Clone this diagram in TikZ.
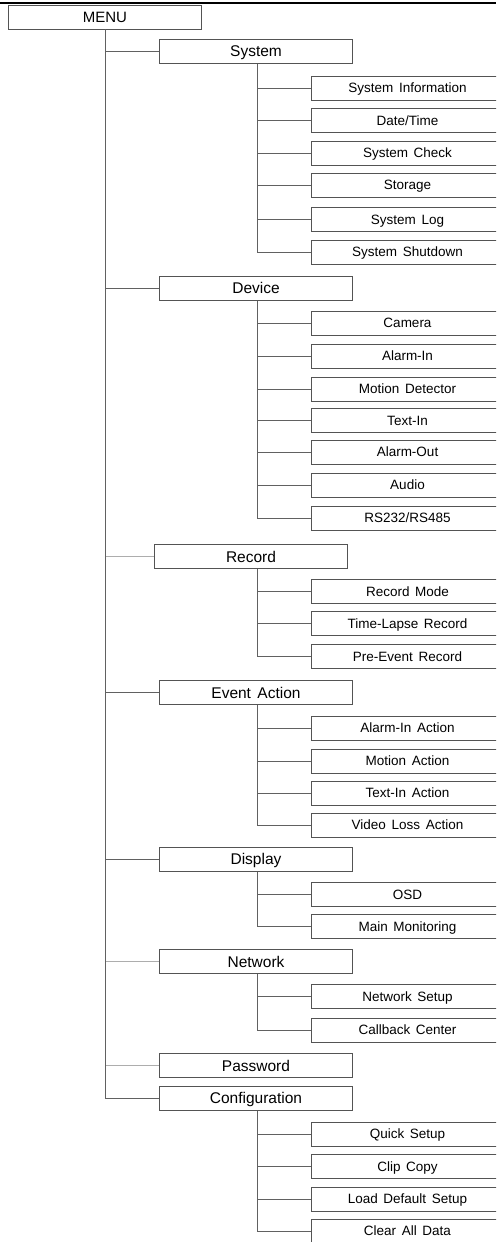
\documentclass[tikz,border=0pt]{standalone}
\usepackage{fontspec}
\setmainfont[WordSpace=1.5]{Liberation Sans}
\usetikzlibrary{positioning}
\definecolor{boxgray}{gray}{0.33}
\definecolor{linegray}{gray}{0.38}
\definecolor{faintgray}{gray}{0.68}
\tikzstyle{menubox} = [rectangle, draw=boxgray, line width=1pt, minimum width=193pt, minimum height=24pt, inner sep=0pt, anchor=west, text depth=0pt, text height=10.7pt, font=\fontsize{15}{18}\selectfont]
\tikzstyle{topic} = [menubox, text height=11.1pt, font=\fontsize{15.5}{18}\selectfont]
\tikzstyle{item} = [menubox, minimum width=192pt, text height=9.7pt, font=\fontsize{13.5}{16}\selectfont]
\tikzstyle{link} = [draw=linegray, line width=1pt]
\tikzstyle{faint} = [draw=faintgray, line width=1pt]

\begin{document}
\begin{tikzpicture}[x=1pt, y=-1pt]
\path [use as bounding box, clip] (0,0) rectangle (496,1242);
\draw [line width=2pt] (0,3) -- (496,3);
\coordinate (bus) at (257,0);

\node (menu) [menubox] at (8,17) {MENU};

% System
\node (system) [topic] at (159,51) {System};
\node (sysinfo) [item] at (311,88) {System Information};
\node (datetime) [item] at (311,120.5) {Date/Time};
\node (syscheck) [item] at (311,153) {System Check};
\node (storage) [item] at (311,185) {Storage};
\node (syslog) [item] at (311,219.5) {System Log};
\node (shutdown) [item] at (311,252) {System Shutdown};

% Device
\node (device) [topic] at (159,288) {Device};
\node (camera) [item] at (311,323) {Camera};
\node (alarmin) [item] at (311,356) {Alarm-In};
\node (motion) [item] at (311,389) {Motion Detector};
\node (textin) [item] at (311,420.5) {Text-In};
\node (alarmout) [item] at (311,452) {Alarm-Out};
\node (audio) [item] at (311,485) {Audio};
\node (serial) [item] at (311,518) {RS232/RS485};

% Record
\node (record) [topic] at (154,556.5) {Record};
\node (recmode) [item] at (311,591.5) {Record Mode};
\node (lapse) [item] at (311,623.5) {Time-Lapse Record};
\node (preevent) [item] at (311,656.5) {Pre-Event Record};

% Event Action
\node (event) [topic] at (159,692.5) {Event Action};
\node (aiaction) [item] at (311,728) {Alarm-In Action};
\node (mdaction) [item] at (311,761) {Motion Action};
\node (tiaction) [item] at (311,793) {Text-In Action};
\node (vlaction) [item] at (311,825) {Video Loss Action};

% Display
\node (display) [topic] at (159,859) {Display};
\node (osd) [item] at (311,894.5) {OSD};
\node (monitor) [item] at (311,926.5) {Main Monitoring};

% Network
\node (network) [topic] at (159,961.5) {Network};
\node (netsetup) [item] at (311,996.5) {Network Setup};
\node (callback) [item] at (311,1030) {Callback Center};

\node (password) [topic] at (159,1065.5) {Password};

% Configuration
\node (config) [topic] at (159,1098) {Configuration};
\node (quick) [item] at (311,1134) {Quick Setup};
\node (clip) [item] at (311,1166.5) {Clip Copy};
\node (loaddef) [item] at (311,1199) {Load Default Setup};
\node (clear) [item] at (311,1231) {Clear All Data};

\foreach \n in {record,network,password}
  \draw [faint] (menu.south) |- (\n.west);
\foreach \n in {system,device,event,display,config}
  \draw [link] (menu.south) |- (\n.west);

\foreach \p/\c in {system/sysinfo, system/datetime, system/syscheck, system/storage, system/syslog, system/shutdown,
    device/camera, device/alarmin, device/motion, device/textin, device/alarmout, device/audio, device/serial,
    record/recmode, record/lapse, record/preevent,
    event/aiaction, event/mdaction, event/tiaction, event/vlaction,
    display/osd, display/monitor,
    network/netsetup, network/callback,
    config/quick, config/clip, config/loaddef, config/clear}
  \draw [link] (\p.south -| bus) |- (\c.west);
\end{tikzpicture}
\end{document}
